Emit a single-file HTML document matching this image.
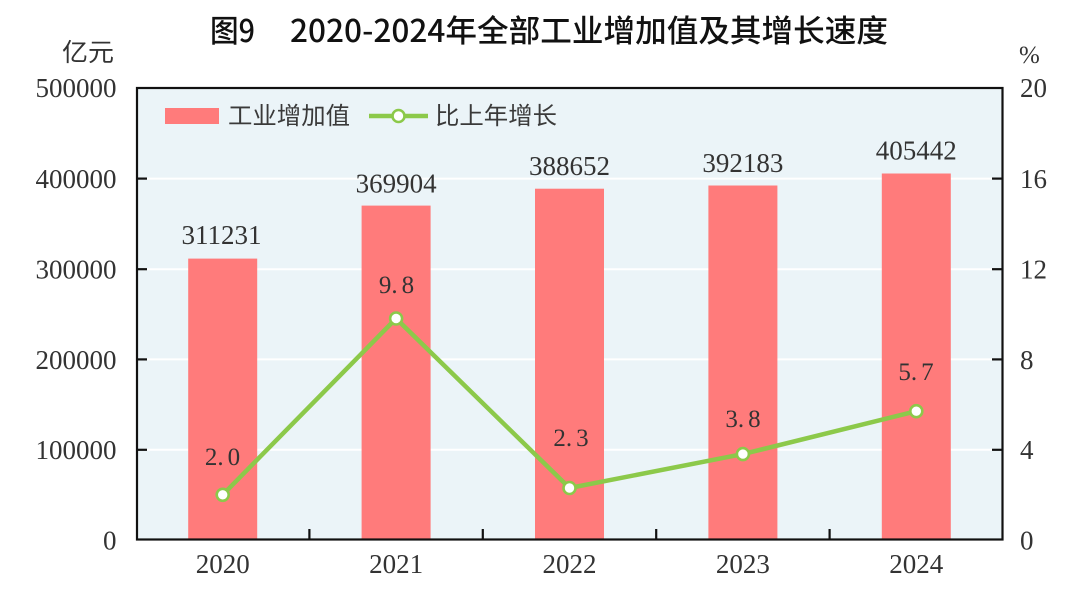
<!DOCTYPE html>
<html><head><meta charset="utf-8"><style>
html,body{margin:0;padding:0;background:#fff;}
svg{display:block;}
.num{font-family:"Liberation Serif","Noto Serif CJK SC",serif;fill:#333;}
.cjk{font-family:"Liberation Sans","Noto Sans CJK SC",sans-serif;}
.ttl{font-family:"Noto Sans CJK SC","Liberation Sans",sans-serif;}
</style></head><body>
<svg width="1080" height="597" viewBox="0 0 1080 597" xmlns="http://www.w3.org/2000/svg">
<rect x="0" y="0" width="1080" height="597" fill="#fff"/>
<!-- title -->
<text class="ttl" x="210" y="42" font-size="31" font-weight="500" fill="#111" textLength="45" lengthAdjust="spacingAndGlyphs">图9</text>
<text class="ttl" x="290" y="42" font-size="31" font-weight="500" fill="#111" textLength="598" lengthAdjust="spacingAndGlyphs">2020-2024年全部工业增加值及其增长速度</text>
<!-- units -->
<text class="cjk" x="62" y="61" font-size="25" fill="#333" textLength="52" lengthAdjust="spacingAndGlyphs">亿元</text>
<text class="num" x="1019" y="63" font-size="25">%</text>
<!-- plot background -->
<rect x="136" y="88" width="867" height="452" fill="#EBF4F8"/>
<!-- gridlines -->
<g stroke="#fff" stroke-width="2">
<line x1="146" y1="178.6" x2="993" y2="178.6"/>
<line x1="146" y1="269.2" x2="993" y2="269.2"/>
<line x1="146" y1="359.4" x2="993" y2="359.4"/>
<line x1="146" y1="449.8" x2="993" y2="449.8"/>
</g>
<!-- bars -->
<g fill="#FF7B7B">
<rect x="188.2" y="258.6" width="69" height="281.4"/>
<rect x="361.6" y="205.6" width="69" height="334.4"/>
<rect x="535" y="188.7" width="69" height="351.3"/>
<rect x="708.4" y="185.5" width="69" height="354.5"/>
<rect x="881.8" y="173.5" width="69" height="366.5"/>
</g>
<!-- line -->
<polyline points="222.7,494.8 396.1,318.5 569.5,488 742.9,454.1 916.3,411.2" fill="none" stroke="#8CC94A" stroke-width="4.5" stroke-linejoin="round"/>
<g fill="#fff" stroke="#8CC94A" stroke-width="2.6">
<circle cx="222.7" cy="494.8" r="6"/>
<circle cx="396.1" cy="318.5" r="6"/>
<circle cx="569.5" cy="488" r="6"/>
<circle cx="742.9" cy="454.1" r="6"/>
<circle cx="916.3" cy="411.2" r="6"/>
</g>
<!-- border -->
<rect x="137" y="88" width="865.5" height="451.5" fill="none" stroke="#111" stroke-width="2.2"/>
<!-- ticks -->
<g stroke="#111" stroke-width="2.2">
<line x1="137" y1="178.6" x2="147" y2="178.6"/>
<line x1="137" y1="269.2" x2="147" y2="269.2"/>
<line x1="137" y1="359.4" x2="147" y2="359.4"/>
<line x1="137" y1="449.8" x2="147" y2="449.8"/>
<line x1="992" y1="178.6" x2="1002" y2="178.6"/>
<line x1="992" y1="269.2" x2="1002" y2="269.2"/>
<line x1="992" y1="359.4" x2="1002" y2="359.4"/>
<line x1="992" y1="449.8" x2="1002" y2="449.8"/>
<line x1="309.4" y1="529" x2="309.4" y2="540"/>
<line x1="482.8" y1="529" x2="482.8" y2="540"/>
<line x1="656.2" y1="529" x2="656.2" y2="540"/>
<line x1="829.6" y1="529" x2="829.6" y2="540"/>
</g>
<!-- left axis labels -->
<g class="num" font-size="27" text-anchor="end">
<text x="116.5" y="97">500000</text>
<text x="116.5" y="188">400000</text>
<text x="116.5" y="278.5">300000</text>
<text x="116.5" y="369">200000</text>
<text x="116.5" y="459">100000</text>
<text x="116.5" y="549.5">0</text>
</g>
<!-- right axis labels -->
<g class="num" font-size="27">
<text x="1020" y="97">20</text>
<text x="1020" y="188">16</text>
<text x="1020" y="278.5">12</text>
<text x="1020" y="369">8</text>
<text x="1020" y="459">4</text>
<text x="1020" y="549.5">0</text>
</g>
<!-- x labels -->
<g class="num" font-size="27" text-anchor="middle">
<text x="222.7" y="573">2020</text>
<text x="396.1" y="573">2021</text>
<text x="569.5" y="573">2022</text>
<text x="742.9" y="573">2023</text>
<text x="916.3" y="573">2024</text>
</g>
<!-- bar value labels -->
<g class="num" font-size="27" text-anchor="middle">
<text x="221.5" y="244">311231</text>
<text x="396.1" y="192.5">369904</text>
<text x="569.5" y="175">388652</text>
<text x="742.9" y="172">392183</text>
<text x="916.3" y="159.5">405442</text>
</g>
<!-- pct labels -->
<g class="num" font-size="25" text-anchor="middle">
<text x="222.5" y="465">2.<tspan dx="4">0</tspan></text>
<text x="396.5" y="293">9.<tspan dx="4">8</tspan></text>
<text x="571" y="446">2.<tspan dx="4">3</tspan></text>
<text x="743" y="427">3.<tspan dx="4">8</tspan></text>
<text x="916" y="380">5.<tspan dx="4">7</tspan></text>
</g>
<!-- legend -->
<rect x="165" y="108" width="54" height="16" fill="#FF7B7B"/>
<text class="cjk" x="228" y="124" font-size="24" fill="#3a3a3a" textLength="122" lengthAdjust="spacingAndGlyphs">工业增加值</text>
<line x1="369" y1="116" x2="428" y2="116" stroke="#8CC94A" stroke-width="4.5"/>
<circle cx="398.5" cy="116" r="6" fill="#fff" stroke="#8CC94A" stroke-width="2.6"/>
<text class="cjk" x="435" y="124" font-size="24" fill="#3a3a3a" textLength="122" lengthAdjust="spacingAndGlyphs">比上年增长</text>
</svg>
</body></html>
